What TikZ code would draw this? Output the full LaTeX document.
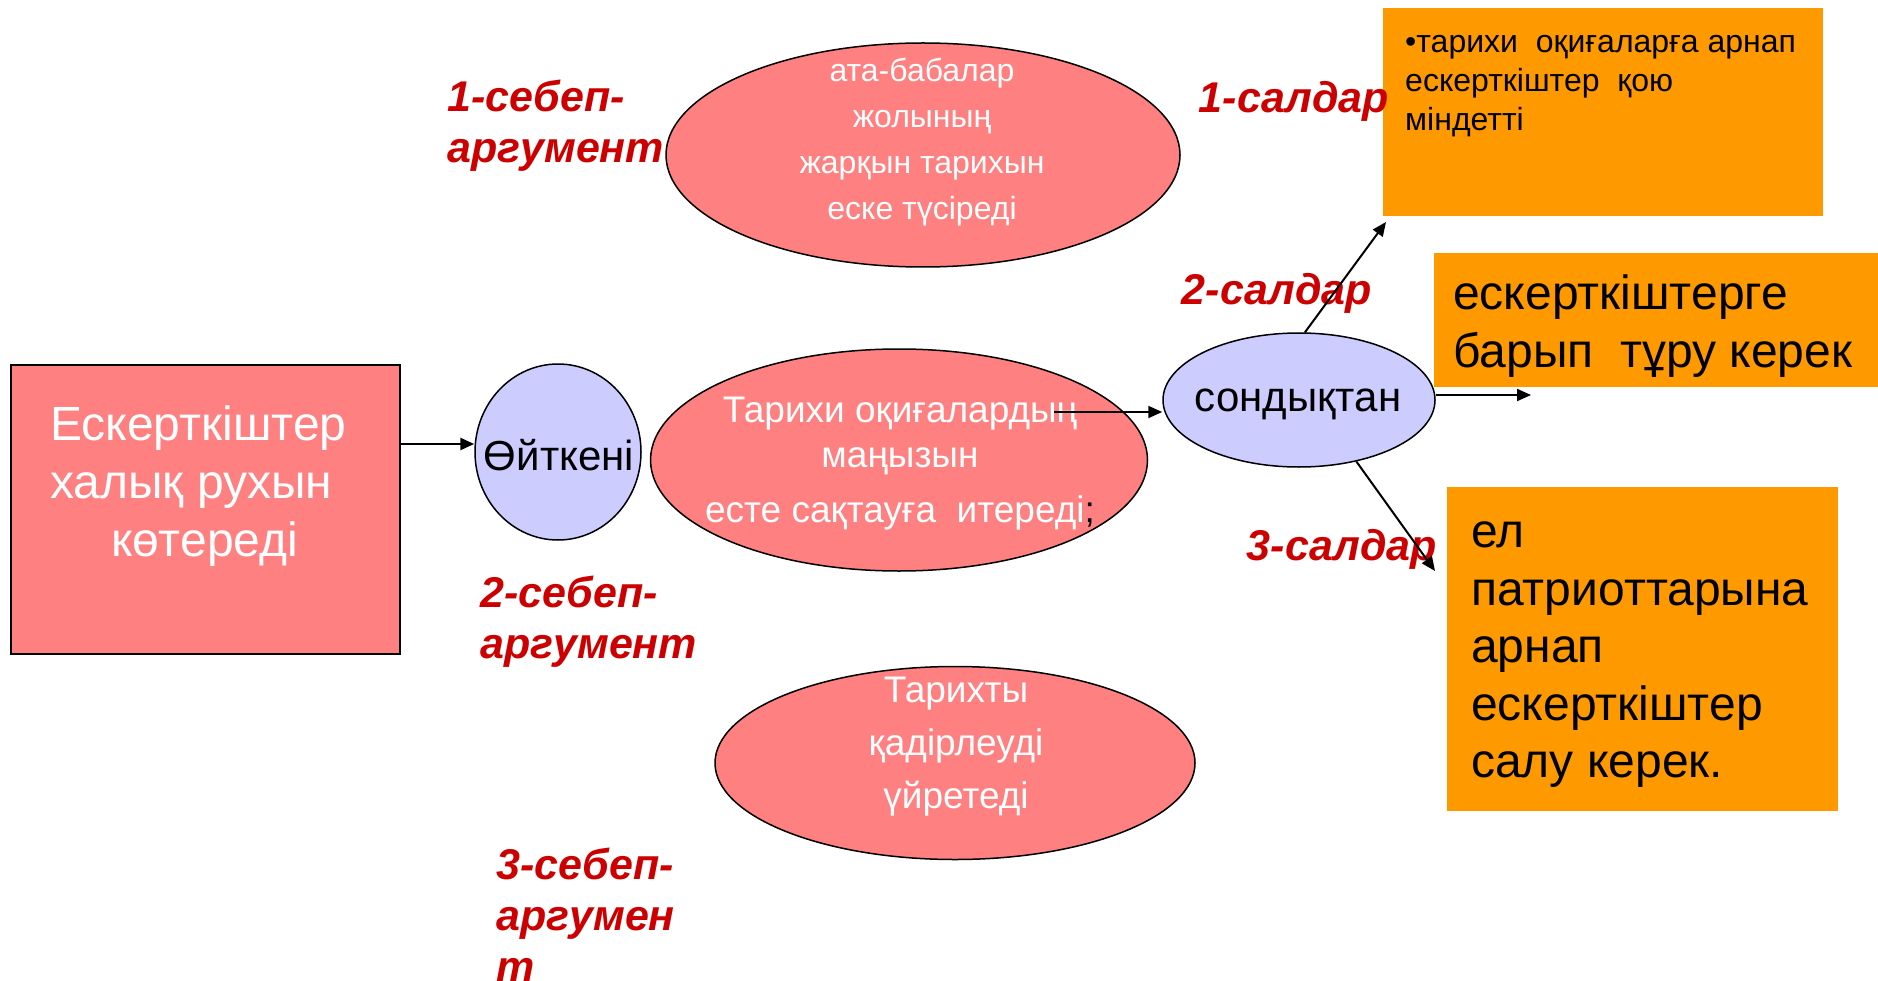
\documentclass[tikz,border=0pt]{standalone}
\usepackage{fontspec}
\setmainfont{Liberation Sans}
\usetikzlibrary{shapes.geometric,arrows.meta,calc}
\definecolor{salmon}{HTML}{FF8080}
\definecolor{lav}{HTML}{CCCCFF}
\definecolor{orng}{HTML}{FF9900}
\definecolor{redlab}{HTML}{CC0000}
\begin{document}
\begin{tikzpicture}[x=1pt,y=-1pt,
  pinkell/.style={ellipse,draw=black,line width=1.5pt,fill=salmon,inner sep=0pt},
  lavell/.style={ellipse,draw=black,line width=1.5pt,fill=lav,inner sep=0pt},
  obox/.style={fill=orng,inner sep=0pt,anchor=north west},
  wtext/.style={text=white,inner sep=0pt,align=center},
  btext/.style={text=black,inner sep=0pt,align=left,anchor=west},
  redlabel/.style={text=redlab,font=\fontsize{43}{51}\selectfont\bfseries\itshape,inner sep=0pt,align=left},
  arr/.style={-{Triangle[length=14pt,width=12pt]},line width=2pt}
]
\useasboundingbox (0,0) rectangle (1878,981);
\fill[white] (0,0) rectangle (1878,981);

% left box
\node[draw=black,fill=salmon,line width=1.5pt,minimum width=389pt,minimum height=289pt,anchor=north west,inner sep=0pt] (rect) at (10,364) {};
\node[text=white,anchor=west,align=left,inner sep=0pt,font=\fontsize{48}{58}\selectfont] (rectt) at (50,486) {Ескерткіштер\\халық рухын\\\hspace*{61pt}көтереді};

% because
\node[lavell,minimum width=166pt,minimum height=176pt] (oyt) at (558,452) {};
\node[text=black,inner sep=0pt,font=\fontsize{42}{48}\selectfont] (oytt) at (559,455) {Өйткені};

% ellipses
\node[pinkell,minimum width=514pt,minimum height=224pt] (e1) at (923,155) {};
\node[wtext,font=\fontsize{32}{46}\selectfont] (e1t) at (922,142) {ата-бабалар\\жолының\\жарқын тарихын\\еске түсіреді};

\node[pinkell,minimum width=497pt,minimum height=222pt] (e2) at (899,460) {};
\node[wtext,font=\fontsize{37}{45}\selectfont] (e2t) at (900,464) {Тарихи оқиғалардың\\маңызын\\[10pt]есте сақтауға\ \ итереді{\color{black};}};

\node[pinkell,minimum width=480pt,minimum height=193pt] (e3) at (955,763) {};
\node[wtext,font=\fontsize{37}{53}\selectfont] (e3t) at (956,747) {Тарихты\\қадірлеуді\\үйретеді};

% therefore
\node[lavell,minimum width=272pt,minimum height=134pt] (sond) at (1299,400) {};
\node[text=black,inner sep=0pt,font=\fontsize{42}{48}\selectfont] (sondt) at (1298,404) {сондықтан};

% orange boxes
\node[obox,minimum width=440pt,minimum height=208pt] (b1) at (1383,8) {};
\node[btext,font=\fontsize{32}{39}\selectfont] (b1t) at (1405,86) {•тарихи\ \ оқиғаларға арнап\\ескерткіштер\ \ қою\\міндетті};

\node[obox,minimum width=444pt,minimum height=134pt] (b2) at (1434,253) {};
\node[btext,font=\fontsize{48}{58}\selectfont] (b2t) at (1453,326) {ескерткіштерге\\барып\ \ тұру керек};

\node[obox,minimum width=391pt,minimum height=324pt] (b3) at (1447,487) {};
\node[btext,font=\fontsize{48}{57.5}\selectfont] (b3t) at (1471,655) {ел\\патриоттарына\\арнап\\ескерткіштер\\салу керек.};

% red labels
\node[redlabel,anchor=west] (s1) at (447,126) {1-себеп-\\аргумент};
\node[redlabel,anchor=west] (s2) at (480,622) {2-себеп-\\аргумент};
\node[redlabel,anchor=west] (s3) at (496,915) {3-себеп-\\аргумен\\т};
\node[redlabel] (c1) at (1294,101) {1-салдар};
\node[redlabel] (c2) at (1277,293) {2-салдар};
\node[redlabel] (c3) at (1342,549) {3-салдар};

% connectors
\path ([yshift=8pt]oyt.west) coordinate (oin);
\coordinate (a2s) at (1054,412);
\coordinate (r2) at (1531,395);
\coordinate (t1) at (1386,222);
\coordinate (t3) at (1435,571);
\draw[arr,line width=2.5pt] (oin -| rect.east) -- (oin);
\draw[arr] (a2s) -- (a2s -| sond.west);
\draw[arr] (sond.85) -- (t1);
\draw[arr] (sond.east |- r2) -- (r2);
\draw[arr] (sond.-47) -- (t3);
\end{tikzpicture}
\end{document}
